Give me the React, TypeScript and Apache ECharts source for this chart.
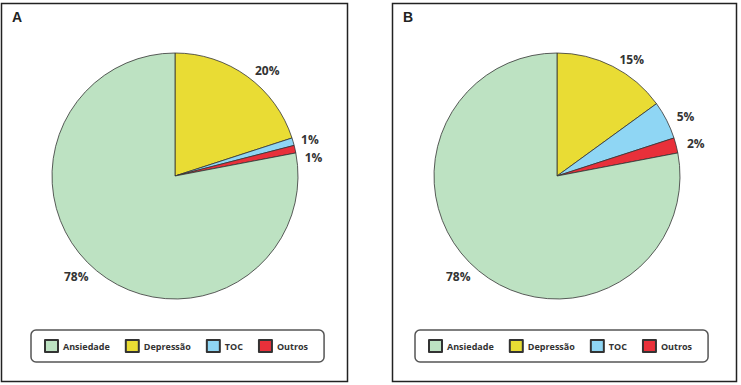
import React, { useEffect, useRef } from "react";
import * as echarts from "echarts";

const categories = ["Depressão", "TOC", "Outros", "Ansiedade"];
const legendOrder = ["Ansiedade", "Depressão", "TOC", "Outros"];
const valuesA = [20, 1, 1, 78];
const valuesB = [15, 5, 2, 78];
const panelLabels = ["A", "B"];
const colors: Record<string, string> = {
  Ansiedade: "#bde2c2",
  "Depressão": "#e9dc34",
  TOC: "#8fd6f4",
  Outros: "#e8303a",
};

export default function App() {
  const ref = useRef<HTMLDivElement>(null);
  useEffect(() => {
    document.body.style.margin = "0";
    const chart = echarts.init(ref.current!, undefined, { renderer: "svg" });
    const mkData = (vals: number[]) =>
      categories.map((c, i) => ({ name: c, value: vals[i], itemStyle: { color: colors[c] } }));
    const pie = (vals: number[], cx: number) => ({
      type: "pie",
      center: [cx, 176],
      radius: 123,
      startAngle: 90,
      clockwise: true,
      data: mkData(vals),
      itemStyle: { borderColor: "#333", borderWidth: 0.8 },
      label: {
        show: true,
        position: "outside",
        formatter: "{c}%",
        fontFamily: "Open Sans",
        fontWeight: "bold",
        fontSize: 12,
        lineHeight: 16,
        color: "#333",
        distanceToLabelLine: 3,
      },
      labelLine: { show: false, length: 8, length2: 0 },
      emphasis: { disabled: true },
    });
    const legend = (left: number) => ({
      data: legendOrder,
      left,
      top: 330,
      orient: "horizontal",
      icon: "rect",
      itemWidth: 13,
      itemHeight: 12,
      itemGap: 15,
      padding: [9, 16, 9, 13],
      borderColor: "#555",
      borderWidth: 1.5,
      borderRadius: 5,
      selectedMode: false,
      textStyle: { fontFamily: "Open Sans", fontWeight: "bold", fontSize: 9, color: "#333" },
    });
    chart.setOption({
      animation: false,
      title: [
        { text: panelLabels[0], left: 12, top: 10, padding: 0, textStyle: { fontFamily: "Liberation Sans", fontWeight: "bold", fontSize: 14, color: "#222" } },
        { text: panelLabels[1], left: 403, top: 10, padding: 0, textStyle: { fontFamily: "Liberation Sans", fontWeight: "bold", fontSize: 14, color: "#222" } },
      ],
      legend: [legend(31), legend(415)],
      graphic: [
        { type: "rect", shape: { x: 1.5, y: 3.5, width: 346, height: 378 }, style: { fill: "none", stroke: "#222", lineWidth: 1.5 }, silent: true },
        { type: "rect", shape: { x: 392.5, y: 3.5, width: 344, height: 378 }, style: { fill: "none", stroke: "#222", lineWidth: 1.5 }, silent: true },
      ],
      series: [pie(valuesA, 175), pie(valuesB, 557)],
    });
    return () => chart.dispose();
  }, []);
  return <div ref={ref} style={{ width: 741, height: 385 }} />;
}
